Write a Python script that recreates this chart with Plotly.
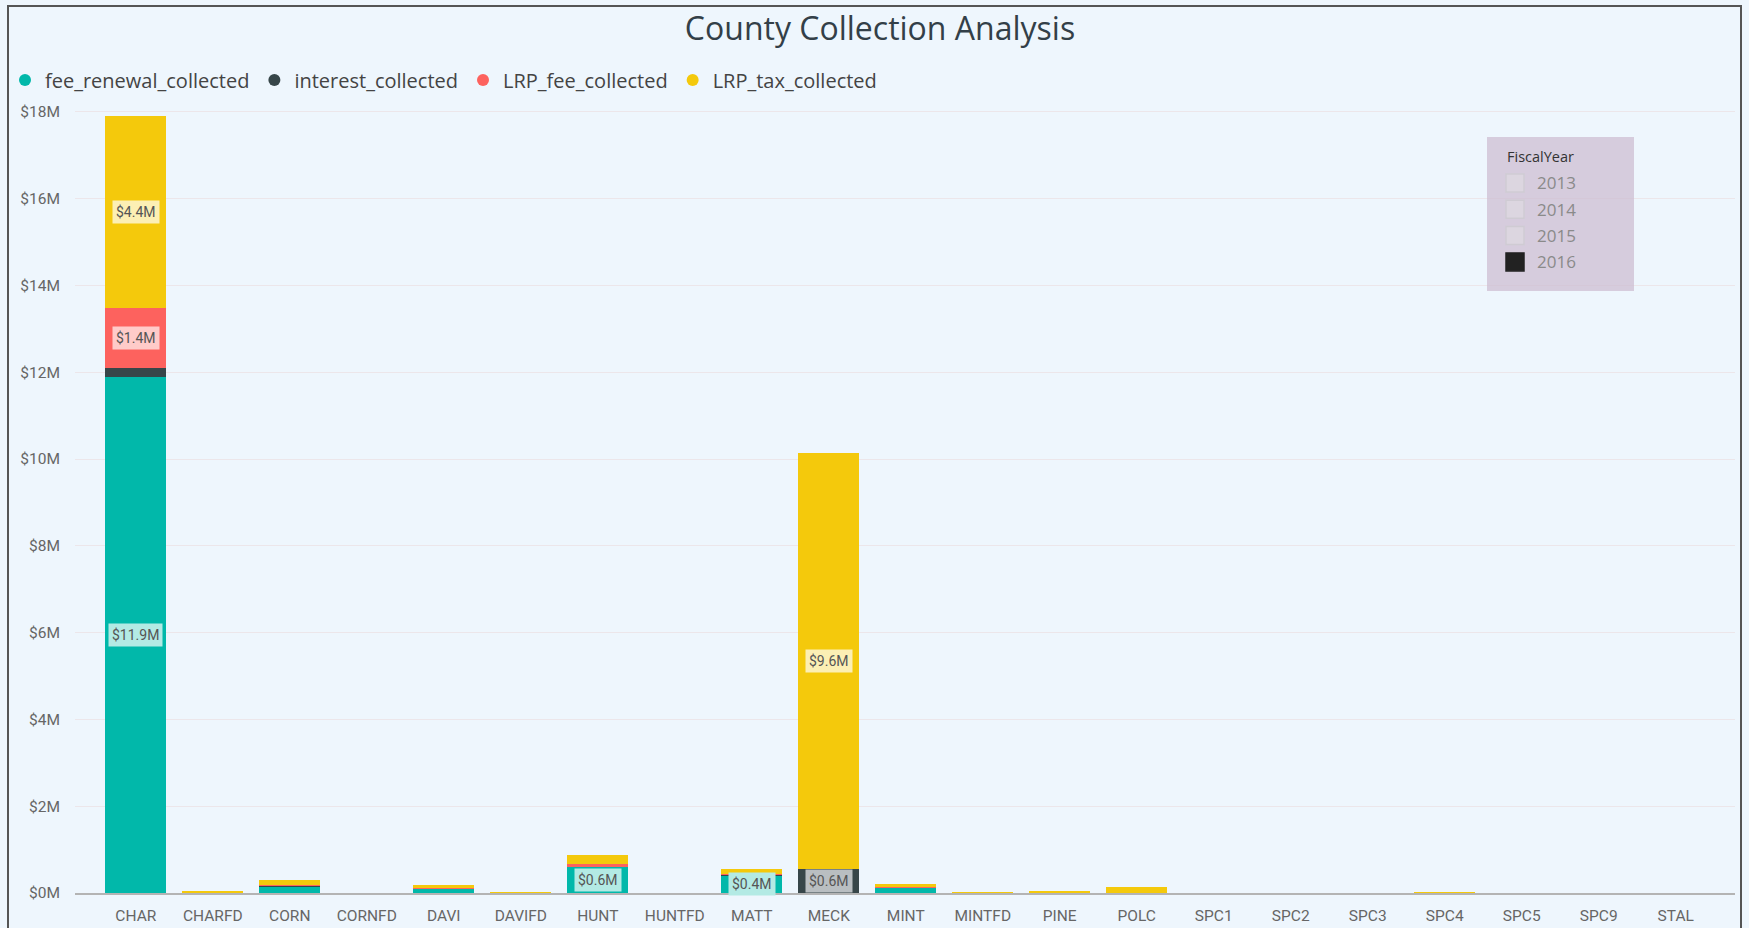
import plotly.graph_objects as go

categories = ["CHAR", "CHARFD", "CORN", "CORNFD", "DAVI", "DAVIFD", "HUNT", "HUNTFD",
              "MATT", "MECK", "MINT", "MINTFD", "PINE", "POLC", "SPC1", "SPC2", "SPC3",
              "SPC4", "SPC5", "SPC9", "STAL"]
# values in $M
fee_renewal_collected = [11.88, 0.0, 0.16, 0.0, 0.11, 0.0, 0.60, 0.0, 0.41, 0.0, 0.13, 0.0,
                         0.0, 0.0, 0.0, 0.0, 0.0, 0.0, 0.0, 0.0, 0.0]
interest_collected = [0.21, 0.0, 0.005, 0.0, 0.005, 0.0, 0.01, 0.0, 0.01, 0.55, 0.005, 0.0,
                      0.0, 0.0, 0.0, 0.0, 0.0, 0.0, 0.0, 0.0, 0.0]
LRP_fee_collected = [1.39, 0.0, 0.01, 0.0, 0.01, 0.0, 0.05, 0.0, 0.02, 0.0, 0.01, 0.0,
                     0.0, 0.0, 0.0, 0.0, 0.0, 0.0, 0.0, 0.0, 0.0]
LRP_tax_collected = [4.42, 0.03, 0.12, 0.0, 0.05, 0.005, 0.22, 0.0, 0.11, 9.58, 0.07, 0.004,
                     0.03, 0.13, 0.0, 0.0, 0.0, 0.01, 0.0, 0.0, 0.0]

series_names = ["fee_renewal_collected", "interest_collected", "LRP_fee_collected", "LRP_tax_collected"]
series_values = [fee_renewal_collected, interest_collected, LRP_fee_collected, LRP_tax_collected]
series_colors = ["#01B8AA", "#374649", "#FD625E", "#F4C90C"]
label_bg = ["#B3EAE4", "#B9BEC1", "#FFCBC9", "#FCEFB4"]

y_ticks = [0, 2, 4, 6, 8, 10, 12, 14, 16, 18]
y_tick_text = ["$%dM" % v for v in y_ticks]

slicer_title = "FiscalYear"
slicer_years = ["2013", "2014", "2015", "2016"]
slicer_selected = [False, False, False, True]

W, H = 1749, 928
L, R, T, B = 75, 14, 100, 35
pw, ph = W - L - R, H - T - B

def px(x):
    return (x - L) / pw

def py(y):
    return (H - B - y) / ph

fig = go.Figure()
font_family = "Open Sans, Noto Sans, sans-serif"

for name, vals, col in zip(series_names, series_values, series_colors):
    fig.add_trace(go.Bar(x=categories, y=vals, name=name, marker=dict(color=col, line=dict(width=0)),
                         showlegend=False, hoverinfo="x+y+name"))
    fig.add_trace(go.Scatter(x=[None], y=[None], mode="markers", name=name,
                             marker=dict(color=col, size=14, symbol="circle"), showlegend=True))

# data labels for segments large enough
threshold = 0.35
for i, cat in enumerate(categories):
    base = 0.0
    for s, vals in enumerate(series_values):
        v = vals[i]
        if v >= threshold:
            fig.add_annotation(x=cat, y=base + v / 2, text="$%.1fM" % v, showarrow=False,
                               font=dict(size=14, color="#555555", family="Roboto, sans-serif"),
                               bgcolor=label_bg[s], borderpad=3, xref="x", yref="y")
        base += v

fig.update_layout(
    width=W, height=H,
    margin=dict(l=L, r=R, t=T, b=B, pad=0, autoexpand=False),
    paper_bgcolor="#EEF6FD", plot_bgcolor="#EEF6FD",
    barmode="stack", bargap=0.21,
    font=dict(family=font_family, color="#666666"),
    title=dict(text="County Collection Analysis", x=880 / W, xanchor="center",
               y=1 - 29 / H, yanchor="middle",
               font=dict(size=32, color="#333F48", family=font_family)),
    legend=dict(orientation="h", xref="container", yref="container",
                x=5 / W, xanchor="left", y=1 - 80 / H, yanchor="middle",
                font=dict(size=20, color="#444444", family=font_family),
                itemsizing="constant", itemwidth=30, tracegroupgap=0, traceorder="normal",
                bgcolor="rgba(0,0,0,0)"),
    xaxis=dict(range=[-0.79, 20.77], showgrid=False, showline=True, linecolor="#B4B4B4",
               linewidth=1.5, tickfont=dict(size=15.5, color="#666666", family="Roboto, sans-serif"),
               ticks="", ticklabelstandoff=8, fixedrange=True, automargin=False),
    yaxis=dict(range=[0, (H - B - T) / 43.4], tickvals=y_ticks, ticktext=y_tick_text,
               showgrid=True, gridcolor="#ECE6EA", gridwidth=1, zeroline=False,
               tickfont=dict(size=15.5, color="#666666", family="Roboto, sans-serif"),
               ticks="", ticklabelstandoff=14, fixedrange=True, automargin=False),
    showlegend=True,
)

# outer frame of the visual
fig.add_shape(type="rect", xref="paper", yref="paper", x0=px(8), x1=px(1741), y0=py(940), y1=py(6),
              line=dict(color="#555555", width=2), fillcolor="rgba(0,0,0,0)", layer="above")

# slicer panel
fig.add_shape(type="rect", xref="paper", yref="paper", x0=px(1487), x1=px(1634), y0=py(291), y1=py(137),
              line=dict(width=0), fillcolor="rgba(205,190,210,0.75)", layer="above")
fig.add_annotation(xref="paper", yref="paper", x=px(1505), y=py(156), xanchor="left", yanchor="middle",
                   text=slicer_title, showarrow=False, font=dict(size=14.5, color="#333333", family=font_family))
for k, (yr, sel) in enumerate(zip(slicer_years, slicer_selected)):
    cy = 183 + k * 26.3
    fig.add_shape(type="rect", xref="paper", yref="paper", x0=px(1506), x1=px(1524),
                  y0=py(cy + 9), y1=py(cy - 9),
                  line=dict(color="#222222" if sel else "#CFCBD3", width=1.5),
                  fillcolor="#222222" if sel else "rgba(220,214,224,1)", layer="above")
    fig.add_annotation(xref="paper", yref="paper", x=px(1535), y=py(cy), xanchor="left", yanchor="middle",
                       text=yr, showarrow=False, font=dict(size=17, color="#8A8A8A", family=font_family))

fig.write_html("out.html", config={"displayModeBar": False},
               post_script="document.body.style.margin='0';document.body.style.overflow='hidden';")
